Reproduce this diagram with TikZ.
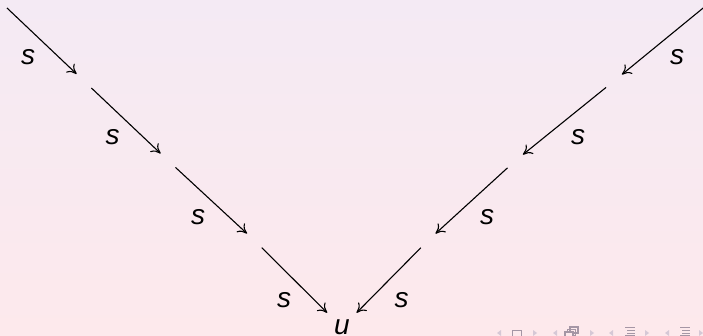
\documentclass[tikz,border=0pt]{standalone}
\usepackage{fontspec}
\setsansfont{Liberation Sans}
\usetikzlibrary{arrows.meta}
\definecolor{bgtop}{RGB}{244,234,244}
\definecolor{bgbot}{RGB}{253,233,236}
\definecolor{navlight}{RGB}{214,200,214}
\definecolor{navdark}{RGB}{165,150,165}
\tikzset{
  junc/.style={circle,inner sep=0pt,minimum size=20pt},
  arr/.style={line width=1.1pt,-{To[length=9pt,width=12pt]}},
  lab/.style={inner sep=0pt,font=\fontsize{28}{28}\selectfont\sffamily\itshape},
  target/.style={inner sep=7pt,font=\fontsize{28}{28}\selectfont\sffamily\itshape},
  navtri/.style={fill=navlight,draw=none},
  navicon/.style={draw=navdark,line width=1.2pt}
}
\begin{document}
\begin{tikzpicture}[x=1pt,y=-1pt]
\useasboundingbox (0,0) rectangle (703,336);
\shade[top color=bgtop,bottom color=bgbot] (0,0) rectangle (703,336);
% left chain
\coordinate (L0) at (7,8);
\node[junc] (L1) at (84,81) {};
\node[junc] (L2) at (168,160.5) {};
\node[junc] (L3) at (254.5,240.5) {};
% right chain
\coordinate (R0) at (705,6.5);
\node[junc] (R1) at (614,81) {};
\node[junc] (R2) at (515,161) {};
\node[junc] (R3) at (428,240.5) {};
\node[target] (u) at (342,327.5) {u};
\draw[arr] (L0) -- (L1);
\draw[arr] (L1) -- (L2);
\draw[arr] (L2) -- (L3);
\draw[arr] (L3) -- (u);
\draw[arr] (R0) -- (R1);
\draw[arr] (R1) -- (R2);
\draw[arr] (R2) -- (R3);
\draw[arr] (R3) -- (u);
% labels
\node[lab] (sl1) at (28,57) {s};
\node[lab] (sl2) at (112.5,137.5) {s};
\node[lab] (sl3) at (198,217) {s};
\node[lab] (sl4) at (284,300) {s};
\node[lab] (sr1) at (677,57) {s};
\node[lab] (sr2) at (578,137) {s};
\node[lab] (sr3) at (487,217) {s};
\node[lab] (sr4) at (401.5,300) {s};
% navigation symbols (partially cut)
\fill[navtri] (501,330) -- (497,333) -- (501,336) -- cycle;
\draw[navicon] (512.5,330.5) rectangle (521.5,340);
\fill[navtri] (533,330) -- (537,333) -- (533,336) -- cycle;
\fill[navtri] (557,330) -- (553,333) -- (557,336) -- cycle;
\draw[navicon] (570,327) rectangle (578,333);
\draw[navicon] (567.5,329.5) rectangle (575.5,335.5);
\draw[navicon,fill=bgbot] (565,332) rectangle (573,340);
\fill[navtri] (590,330) -- (594,333) -- (590,336) -- cycle;
\fill[navtri] (613,330) -- (609,333) -- (613,336) -- cycle;
\draw[navicon] (625,327.5) -- (635,327.5) (627,330.5) -- (635,330.5) (627,333.5) -- (635,333.5) (625,336) -- (635,336);
\fill[navtri] (645,330) -- (649,333) -- (645,336) -- cycle;
\fill[navtri] (669,330) -- (665,333) -- (669,336) -- cycle;
\draw[navicon] (680,327.5) -- (690,327.5) (682,330.5) -- (690,330.5) (682,333.5) -- (690,333.5) (680,336) -- (690,336);
\fill[navtri] (699,330) -- (703,333) -- (699,336) -- cycle;
\end{tikzpicture}
\end{document}
